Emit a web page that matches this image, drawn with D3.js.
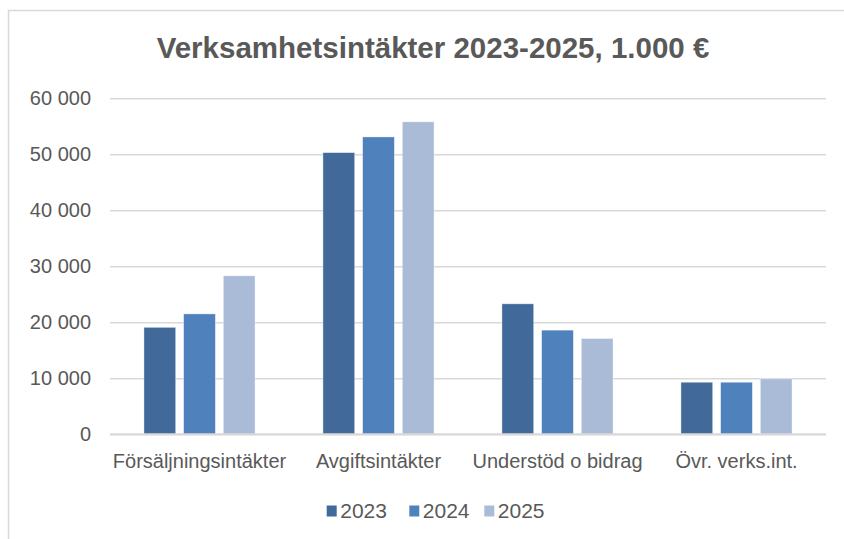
<!DOCTYPE html>
<html>
<head>
<meta charset="utf-8">
<script src="https://cdn.jsdelivr.net/npm/d3@7"></script>
<style>
  body { margin: 0; background: #fff; }
  svg { display: block; font-family: 'Liberation Sans', Arial, sans-serif; }
</style>
</head>
<body>
<div id="graf"></div>
<script>
const kategorier = ['Försäljningsintäkter', 'Avgiftsintäkter', 'Understöd o bidrag', 'Övr. verks.int.']
const ar = ['2023', '2024', '2025']
const v2023 = [19100, 50300, 23300, 9300]
const v2024 = [21500, 53100, 18600, 9300]
const v2025 = [28300, 55800, 17100, 9900]
const yTicks = [0, 10000, 20000, 30000, 40000, 50000, 60000]
const titel = 'Verksamhetsintäkter 2023-2025, 1.000 €'

const serier = { 2023: v2023, 2024: v2024, 2025: v2025 }
const anchoTotal = 844
const altoTotal = 539

const svg = d3.select('#graf')
  .append('svg')
  .attr('width', anchoTotal)
  .attr('height', altoTotal)

// chart frame
svg.append('rect')
  .attr('x', 8.5).attr('y', 10.5)
  .attr('width', 900).attr('height', 600)
  .attr('fill', '#fff')
  .attr('stroke', '#d9d9d9')
  .attr('stroke-width', 1.5)

svg.append('text')
  .attr('x', 433).attr('y', 58)
  .attr('text-anchor', 'middle')
  .attr('font-size', 29.5)
  .attr('font-weight', 'bold')
  .attr('fill', '#595959')
  .text(titel)

const x0 = d3.scaleBand().domain(kategorier).range([110, 826]).padding(0)
const x1 = d3.scaleBand().domain(ar).range([0, x0.bandwidth()])
  .paddingInner(0.2).paddingOuter(0.855)
const y = d3.scaleLinear().domain([0, 60000]).range([434.3, 98.3])
const c = d3.scaleOrdinal().domain(ar).range(['#416a9b', '#4f81bd', '#aabbd7'])

const fmt = (d) => d3.format(',')(d).replace(/,/g, ' ')

// gridlines
const yAxis = svg.append('g')
  .attr('transform', 'translate(110,0)')
  .call(d3.axisLeft(y).tickValues(yTicks).tickSize(-716).tickFormat(fmt).tickPadding(19))
yAxis.select('.domain').remove()
yAxis.selectAll('.tick line').attr('stroke', '#d9d9d9').attr('stroke-width', 1.5)
yAxis.selectAll('.tick text')
  .attr('font-size', 20)
  .attr('fill', '#595959')
  .attr('font-family', "'Liberation Sans', Arial, sans-serif")

// bars
const grupos = svg.append('g').selectAll('g')
  .data(kategorier)
  .join('g')
  .attr('transform', (d) => `translate(${x0(d)},0)`)

grupos.selectAll('rect')
  .data((d, i) => ar.map((a) => ({ a, v: serier[a][i] })))
  .join('rect')
  .attr('x', (d) => x1(d.a))
  .attr('width', x1.bandwidth())
  .attr('y', (d) => y(d.v))
  .attr('height', (d) => y(0) - y(d.v))
  .attr('fill', (d) => c(d.a))
  .attr('stroke', '#fff')
  .attr('stroke-opacity', 0.5)
  .attr('stroke-width', 0.75)

// baseline
svg.append('line')
  .attr('x1', 110).attr('x2', 826)
  .attr('y1', y(0)).attr('y2', y(0))
  .attr('stroke', '#d9d9d9').attr('stroke-width', 2)

// category labels
const xAxis = svg.append('g')
  .attr('transform', `translate(0,${y(0)})`)
  .call(d3.axisBottom(x0).tickSize(0).tickPadding(20))
xAxis.select('.domain').remove()
xAxis.selectAll('.tick text')
  .attr('font-size', 20)
  .attr('fill', '#595959')
  .attr('font-family', "'Liberation Sans', Arial, sans-serif")

// legend
const legX = [326.7, 409.3, 484.3]
const leyenda = svg.append('g').selectAll('g')
  .data(ar)
  .join('g')
  .attr('transform', (d, i) => `translate(${legX[i]},0)`)
leyenda.append('rect')
  .attr('x', 0).attr('y', 505.5)
  .attr('width', 10).attr('height', 11)
  .attr('fill', (d) => c(d))
leyenda.append('text')
  .attr('x', 13.5).attr('y', 517.5)
  .attr('font-size', 21)
  .attr('fill', '#595959')
  .text((d) => d)
</script>
</body>
</html>
